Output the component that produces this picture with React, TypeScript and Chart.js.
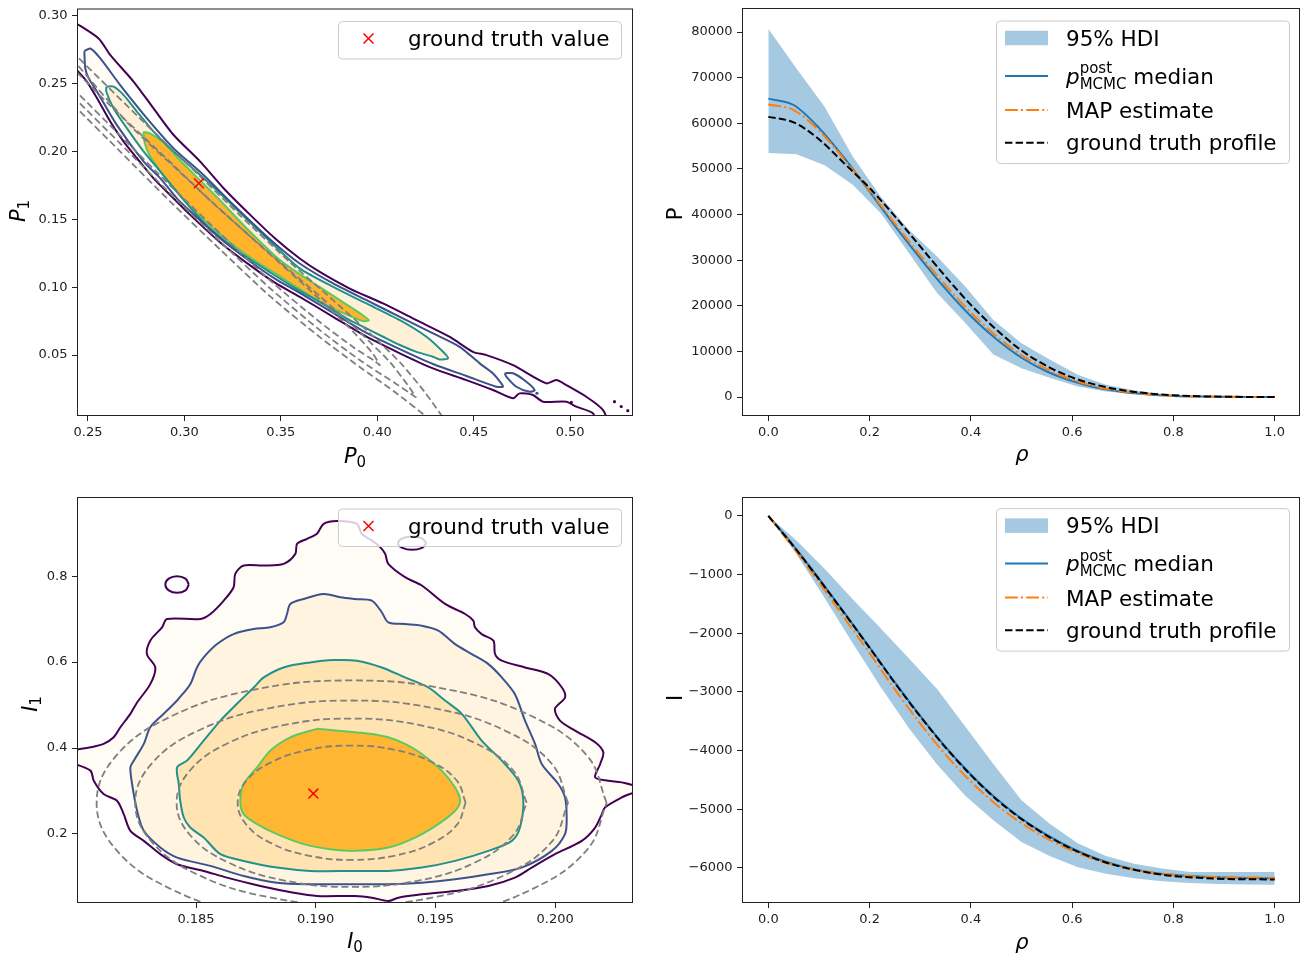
import React, { useEffect, useRef } from "react";
import { Chart, registerables } from "chart.js";
Chart.register(...registerables);

type Pt = [number, number];

// ================= Panel (a): P0 vs P1 =================
const P0_TICKS = [0.25, 0.3, 0.35, 0.4, 0.45, 0.5];
const P1_TICKS = [0.05, 0.1, 0.15, 0.2, 0.25, 0.3];
const P_TRUTH: Pt[] = [[0.3075, 0.1765]];

const P_LEVEL1: Pt[] = [
  [0.2425, 0.2955], [0.2555, 0.2831], [0.2616, 0.2708], [0.2737, 0.2512], [0.284, 0.2316], [0.2944, 0.212],
  [0.3082, 0.1924], [0.3203, 0.1728], [0.3341, 0.1532], [0.3469, 0.136], [0.3598, 0.1211], [0.3702, 0.1112],
  [0.3857, 0.099], [0.403, 0.088], [0.4203, 0.0757], [0.4376, 0.0634], [0.4496, 0.0524], [0.4566, 0.05],
  [0.4704, 0.0426], [0.4877, 0.0292], [0.4928, 0.0316], [0.498, 0.0279], [0.5084, 0.0193], [0.517, 0.0096],
  [0.52, -0.003], [0.515, -0.003], [0.5118, 0.0071], [0.5032, 0.012], [0.498, 0.0157], [0.4859, 0.0157],
  [0.4807, 0.0206], [0.4738, 0.0218], [0.4704, 0.0182], [0.46, 0.0243], [0.4462, 0.0316], [0.4289, 0.0402],
  [0.4117, 0.0513], [0.3944, 0.0635], [0.3771, 0.0782], [0.3598, 0.0929], [0.3469, 0.1033], [0.3339, 0.1162],
  [0.3184, 0.1331], [0.303, 0.1532], [0.2926, 0.1679], [0.284, 0.1801], [0.2754, 0.1949], [0.2685, 0.2071],
  [0.2616, 0.2218], [0.2547, 0.239], [0.2495, 0.2512], [0.2425, 0.2625],
];
const P_LEVEL1_SPECKS: Pt[] = [[0.5006, 0.0152], [0.523, 0.0157], [0.5265, 0.0121], [0.5299, 0.0091]];
const P_LEVEL2: Pt[] = [
  [0.2481, 0.2738], [0.2512, 0.2757], [0.2564, 0.2684], [0.2667, 0.2488], [0.2806, 0.2243], [0.2944, 0.2022],
  [0.3099, 0.1826], [0.3255, 0.1605], [0.3443, 0.1353], [0.3598, 0.1174], [0.3771, 0.1027], [0.3944, 0.0904],
  [0.4117, 0.0782], [0.4289, 0.066], [0.4427, 0.0561], [0.4531, 0.0439], [0.46, 0.0365], [0.4643, 0.0292],
  [0.4652, 0.0267], [0.4617, 0.0267], [0.4462, 0.0346], [0.4289, 0.0434], [0.4117, 0.0544], [0.3944, 0.0664],
  [0.3771, 0.0811], [0.3598, 0.0958], [0.3469, 0.1063], [0.3339, 0.1191], [0.3184, 0.136], [0.303, 0.1559],
  [0.2961, 0.1654], [0.2875, 0.1801], [0.2789, 0.1924], [0.265, 0.2193], [0.2547, 0.2439], [0.2504, 0.2537],
  [0.2486, 0.261], [0.2481, 0.2738],
];
const P_LEVEL2_ISLAND: Pt[] = [
  [0.4661, 0.0366], [0.4704, 0.0366], [0.4773, 0.0304], [0.4816, 0.0243], [0.479, 0.023], [0.4721, 0.0267],
  [0.4669, 0.0342], [0.4661, 0.0366],
];
const P_LEVEL2_SPECKS: Pt[] = [[0.4828, 0.0219]];
const P_LEVEL3: Pt[] = [
  [0.2595, 0.2476], [0.2633, 0.2476], [0.2685, 0.2414], [0.2754, 0.2292], [0.284, 0.2145], [0.2926, 0.2022],
  [0.3054, 0.186], [0.3184, 0.1691], [0.3313, 0.1515], [0.3443, 0.1338], [0.3598, 0.1138], [0.3771, 0.1002],
  [0.3944, 0.088], [0.4117, 0.0757], [0.4255, 0.0635], [0.4341, 0.0524], [0.4367, 0.0476], [0.4324, 0.0468],
  [0.4289, 0.0488], [0.4203, 0.0524], [0.4117, 0.0574], [0.403, 0.0635], [0.3944, 0.0696], [0.3857, 0.0757],
  [0.3771, 0.0831], [0.3685, 0.0904], [0.3598, 0.0973], [0.3443, 0.111], [0.3287, 0.1257], [0.3132, 0.1434],
  [0.3048, 0.1557], [0.2961, 0.1704], [0.2875, 0.1851], [0.2789, 0.1998], [0.2702, 0.2169], [0.2633, 0.2316],
  [0.2595, 0.2439], [0.2595, 0.2476],
];
const P_LEVEL4: Pt[] = [
  [0.2787, 0.2142], [0.2821, 0.2132], [0.289, 0.2066], [0.2977, 0.1934], [0.308, 0.1787], [0.3184, 0.164],
  [0.3322, 0.1434], [0.3495, 0.1199], [0.3598, 0.1096], [0.3702, 0.1], [0.3806, 0.0904], [0.3909, 0.0809],
  [0.3956, 0.0757], [0.3925, 0.075], [0.3806, 0.082], [0.3702, 0.089], [0.3598, 0.0985], [0.3495, 0.108],
  [0.3355, 0.1205], [0.3184, 0.139], [0.3028, 0.1595], [0.294, 0.1735], [0.2873, 0.1858], [0.2821, 0.1965],
  [0.2795, 0.2055], [0.2787, 0.2142],
];
const P_PRIOR1: Pt[] = [
  [0.242, 0.2466], [0.2443, 0.2434], [0.2666, 0.2118], [0.2925, 0.175], [0.3184, 0.1397], [0.3443, 0.1051],
  [0.3702, 0.0743], [0.3883, 0.0551], [0.3987, 0.0456], [0.4013, 0.0426], [0.3971, 0.0522], [0.3857, 0.0699],
  [0.365, 0.0978], [0.3391, 0.1309], [0.3132, 0.164], [0.2873, 0.1993], [0.2614, 0.2338], [0.2443, 0.2581],
  [0.242, 0.2613],
];
const P_PRIOR2: Pt[] = [
  [0.242, 0.2407], [0.2443, 0.2375], [0.2666, 0.2059], [0.2925, 0.1691], [0.3184, 0.1338], [0.3443, 0.0993],
  [0.3702, 0.0684], [0.3909, 0.0463], [0.4091, 0.0294], [0.4168, 0.0221], [0.4199, 0.0191], [0.4158, 0.0279],
  [0.4065, 0.0449], [0.3909, 0.0669], [0.3702, 0.0934], [0.3495, 0.1184], [0.3236, 0.1507], [0.2977, 0.1846],
  [0.2718, 0.2191], [0.2443, 0.264], [0.242, 0.2675],
];
const P_PRIOR3: Pt[] = [
  [0.242, 0.2348], [0.2443, 0.2316], [0.2666, 0.2], [0.2925, 0.1632], [0.3184, 0.1279], [0.3443, 0.0934],
  [0.3702, 0.0632], [0.3909, 0.0412], [0.4091, 0.0228], [0.4251, 0.0051], [0.4324, -0.004], [0.4375, -0.004],
  [0.4246, 0.0228], [0.4116, 0.0449], [0.3961, 0.0662], [0.3754, 0.0926], [0.3547, 0.1184], [0.3288, 0.1529],
  [0.3028, 0.189], [0.2769, 0.2243], [0.2443, 0.2699], [0.242, 0.2735],
];

// ================= Panel (b): pressure profile =================
const RHO = [0, 0.05, 0.1, 0.15, 0.2, 0.25, 0.3, 0.35, 0.4, 0.45, 0.5, 0.55, 0.6, 0.65, 0.7, 0.75, 0.8, 0.85, 0.9, 0.95, 1.0];
const RHO_TICKS = [0, 0.2, 0.4, 0.6, 0.8, 1.0];
const HDI_RHO = [0, 0.0556, 0.1111, 0.1667, 0.2222, 0.2778, 0.3333, 0.3889, 0.4444, 0.5, 0.5556, 0.6111, 0.6667, 0.7222, 0.7778, 0.8333, 0.8889, 0.9444, 1.0];
const P_TICKS = [0, 10000, 20000, 30000, 40000, 50000, 60000, 70000, 80000];
const P_HDI_HI = [80700, 72000, 63600, 52700, 43900, 36600, 30800, 24200, 16900, 11800, 8200, 4900, 2700, 1500, 650, 300, 150, 60, 0];
const P_HDI_LO = [53500, 53200, 50800, 46500, 40300, 31500, 22800, 16200, 9300, 6300, 4200, 2300, 1200, 650, 300, 100, 30, 10, 0];
const P_MEDIAN = [65400, 64000, 59000, 52400, 45000, 37500, 30400, 23700, 17700, 12700, 8600, 5600, 3500, 2000, 1100, 560, 250, 100, 40, 10, 0];
const P_MAP = [64100, 62900, 58400, 52100, 45200, 38000, 31100, 24500, 18500, 13400, 9200, 6100, 3800, 2200, 1200, 620, 290, 120, 45, 15, 0];
const P_TRUE = [61400, 60200, 56500, 51200, 45800, 39600, 33000, 26400, 20200, 14800, 10200, 6800, 4300, 2600, 1500, 800, 380, 160, 60, 20, 0];

// ================= Panel (c): I0 vs I1 =================
const I0_TICKS = [0.185, 0.19, 0.195, 0.2];
const I1_TICKS = [0.2, 0.4, 0.6, 0.8];
const I_TRUTH: Pt[] = [[0.1899, 0.294]];
const I_LEVEL1: Pt[] = [
  [0.17974, 0.3939], [0.18059, 0.4016], [0.18114, 0.4096], [0.18156, 0.425], [0.18184, 0.4483], [0.18226, 0.4796],
  [0.18254, 0.506], [0.18309, 0.5487], [0.1833, 0.5876], [0.18295, 0.6187], [0.18309, 0.6499], [0.18358, 0.681],
  [0.18379, 0.7004], [0.18518, 0.7004], [0.1856, 0.712], [0.18616, 0.7433], [0.18657, 0.7743], [0.18664, 0.8054],
  [0.18699, 0.825], [0.18783, 0.825], [0.18866, 0.8287], [0.18915, 0.852], [0.18922, 0.8754], [0.18964, 0.887],
  [0.19005, 0.8987], [0.19033, 0.922], [0.19089, 0.9284], [0.19172, 0.922], [0.19192, 0.8987], [0.19234, 0.8833],
  [0.19269, 0.8677], [0.1929, 0.852], [0.19303, 0.8287], [0.19373, 0.7977], [0.19443, 0.7783], [0.1954, 0.7354],
  [0.19624, 0.712], [0.19658, 0.6966], [0.19665, 0.681], [0.19693, 0.6653], [0.19742, 0.6499], [0.19749, 0.6187],
  [0.19777, 0.6033], [0.19874, 0.5876], [0.19972, 0.572], [0.20028, 0.541], [0.20041, 0.5176], [0.19999, 0.4912],
  [0.2002, 0.4639], [0.20083, 0.4406], [0.20167, 0.4133], [0.20201, 0.39], [0.20188, 0.3629], [0.20167, 0.3316],
  [0.20222, 0.3239], [0.20278, 0.32], [0.20355, 0.3053], [0.20278, 0.2849], [0.20208, 0.2616], [0.20195, 0.2462],
  [0.20167, 0.2149], [0.20111, 0.1839], [0.19999, 0.1529], [0.19902, 0.1216], [0.19832, 0.0983], [0.19721, 0.0789],
  [0.19582, 0.0672], [0.19443, 0.0595], [0.19345, 0.0516], [0.19303, 0.0439], [0.19234, 0.0516], [0.19164, 0.0556],
  [0.19005, 0.0556], [0.18908, 0.0632], [0.18769, 0.0789], [0.18629, 0.0983], [0.18532, 0.1139], [0.18421, 0.1295],
  [0.18351, 0.1529], [0.18282, 0.1839], [0.18226, 0.2072], [0.18198, 0.2462], [0.1817, 0.2773], [0.18114, 0.2929],
  [0.18073, 0.3239], [0.18059, 0.3473], [0.17974, 0.3666],
];
const I_LEVEL1_ISLAND_A: Pt[] = [
  [0.1847, 0.7806], [0.18456, 0.7943], [0.18421, 0.8], [0.18386, 0.7943], [0.18372, 0.7806], [0.18386, 0.7669],
  [0.18421, 0.7612], [0.18456, 0.7669], [0.1847, 0.7806],
];
const I_LEVEL1_ISLAND_B: Pt[] = [
  [0.19462, 0.877], [0.19444, 0.888], [0.19403, 0.8926], [0.19362, 0.888], [0.19344, 0.877], [0.19362, 0.866],
  [0.19403, 0.8614], [0.19444, 0.866], [0.19462, 0.877],
];
const I_LEVEL2: Pt[] = [
  [0.18421, 0.5106], [0.18476, 0.5487], [0.18504, 0.5876], [0.18532, 0.611], [0.18588, 0.642], [0.18657, 0.6653],
  [0.18741, 0.677], [0.1881, 0.681], [0.18866, 0.6927], [0.1888, 0.712], [0.18894, 0.7354], [0.1895, 0.747],
  [0.19033, 0.7587], [0.19103, 0.751], [0.19164, 0.747], [0.19234, 0.7433], [0.19276, 0.716], [0.19303, 0.6927],
  [0.19373, 0.6887], [0.19443, 0.6849], [0.19512, 0.6733], [0.19582, 0.642], [0.19652, 0.6187], [0.19721, 0.5953],
  [0.19777, 0.5643], [0.19832, 0.5253], [0.19874, 0.4639], [0.19916, 0.4096], [0.19944, 0.3629], [0.20013, 0.3162],
  [0.20041, 0.2849], [0.20048, 0.2383], [0.20041, 0.1995], [0.19986, 0.1606], [0.1986, 0.1216], [0.19721, 0.1062],
  [0.19582, 0.0945], [0.19443, 0.0866], [0.19303, 0.0829], [0.19164, 0.0829], [0.18977, 0.0829], [0.18838, 0.0866],
  [0.18699, 0.1022], [0.1856, 0.1256], [0.18421, 0.1449], [0.18351, 0.1683], [0.18282, 0.2072], [0.18254, 0.2539],
  [0.18233, 0.3162], [0.18226, 0.355], [0.1824, 0.3706], [0.18282, 0.4096], [0.18309, 0.4483], [0.18365, 0.4796],
  [0.18421, 0.5106],
];
const I_LEVEL3: Pt[] = [
  [0.18671, 0.5029], [0.18741, 0.541], [0.18783, 0.5643], [0.18866, 0.5876], [0.18977, 0.5993], [0.19075, 0.6047],
  [0.19172, 0.6033], [0.19276, 0.5876], [0.19373, 0.5643], [0.1947, 0.541], [0.1954, 0.5106], [0.1961, 0.4796],
  [0.19693, 0.4173], [0.19777, 0.3706], [0.19846, 0.3239], [0.19867, 0.2773], [0.19853, 0.2149], [0.19819, 0.1839],
  [0.19721, 0.1606], [0.19582, 0.1372], [0.19443, 0.1216], [0.19303, 0.1139], [0.19164, 0.1139], [0.18977, 0.1139],
  [0.18838, 0.1216], [0.18699, 0.1372], [0.18602, 0.1529], [0.18532, 0.1916], [0.18476, 0.2149], [0.18449, 0.2383],
  [0.18434, 0.2773], [0.18428, 0.3162], [0.18421, 0.355], [0.18462, 0.3706], [0.18532, 0.4173], [0.18602, 0.4639],
  [0.18671, 0.5029],
];
const I_LEVEL4: Pt[] = [
  [0.19005, 0.4446], [0.18894, 0.425], [0.1881, 0.3939], [0.18755, 0.355], [0.18699, 0.3162], [0.18685, 0.2773],
  [0.18699, 0.2462], [0.18755, 0.2229], [0.18838, 0.1995], [0.1895, 0.1762], [0.19061, 0.1645], [0.19164, 0.1606],
  [0.19303, 0.1683], [0.19415, 0.1916], [0.19512, 0.2229], [0.19582, 0.2539], [0.19603, 0.2773], [0.19582, 0.3083],
  [0.19526, 0.3473], [0.19443, 0.3862], [0.19373, 0.4096], [0.19303, 0.425], [0.19234, 0.4329], [0.19164, 0.4366],
  [0.19005, 0.4446],
];
const I_PRIOR1: Pt[] = [
  [0.19626, 0.2726], [0.1959, 0.3235], [0.19487, 0.3666], [0.19332, 0.3955], [0.1915, 0.4056], [0.18968, 0.3955],
  [0.18813, 0.3666], [0.1871, 0.3235], [0.18674, 0.2726], [0.1871, 0.2217], [0.18813, 0.1786], [0.18968, 0.1497],
  [0.1915, 0.1396], [0.19332, 0.1497], [0.19487, 0.1786], [0.1959, 0.2217], [0.19626, 0.2726],
];
const I_PRIOR2: Pt[] = [
  [0.19881, 0.2726], [0.19825, 0.3477], [0.19667, 0.4112], [0.1943, 0.4537], [0.1915, 0.4686], [0.1887, 0.4537],
  [0.18633, 0.4112], [0.18475, 0.3477], [0.18419, 0.2726], [0.18475, 0.1975], [0.18633, 0.134], [0.1887, 0.0915],
  [0.1915, 0.0766], [0.1943, 0.0915], [0.19667, 0.134], [0.19825, 0.1975], [0.19881, 0.2726],
];
const I_PRIOR3: Pt[] = [
  [0.20054, 0.2726], [0.19985, 0.3638], [0.19789, 0.4409], [0.19496, 0.4925], [0.1915, 0.5106], [0.18804, 0.4925],
  [0.18511, 0.4409], [0.18315, 0.3638], [0.18246, 0.2726], [0.18315, 0.1814], [0.18511, 0.1043], [0.18804, 0.0527],
  [0.1915, 0.0346], [0.19496, 0.0527], [0.19789, 0.1043], [0.19985, 0.1814], [0.20054, 0.2726],
];
const I_PRIOR4: Pt[] = [
  [0.20215, 0.2726], [0.20134, 0.3816], [0.19903, 0.4739], [0.19558, 0.5357], [0.1915, 0.5573], [0.18742, 0.5357],
  [0.18397, 0.4739], [0.18166, 0.3816], [0.18085, 0.2726], [0.18166, 0.1636], [0.18397, 0.0713], [0.18742, 0.0095],
  [0.1915, -0.0121], [0.19558, 0.0095], [0.19903, 0.0713], [0.20134, 0.1636], [0.20215, 0.2726],
];

// ================= Panel (d): current profile =================
const I_TICKS = [-6000, -5000, -4000, -3000, -2000, -1000, 0];
const I_HDI_HI = [0, -420, -900, -1420, -1920, -2430, -2950, -3590, -4230, -4850, -5250, -5580, -5800, -5930, -6010, -6070, -6070, -6070, -6070];
const I_HDI_LO = [0, -650, -1400, -2170, -2920, -3620, -4240, -4770, -5190, -5560, -5800, -5990, -6100, -6180, -6230, -6260, -6275, -6285, -6290];
const I_MEDIAN = [0, -510, -1070, -1650, -2240, -2840, -3410, -3940, -4410, -4820, -5160, -5440, -5670, -5850, -5980, -6070, -6120, -6150, -6165, -6175, -6180];
const I_MAP = [0, -550, -1130, -1740, -2340, -2960, -3540, -4070, -4530, -4920, -5240, -5500, -5710, -5870, -5990, -6070, -6120, -6150, -6160, -6165, -6170];
const I_TRUE = [0, -520, -1080, -1660, -2250, -2850, -3420, -3950, -4420, -4830, -5170, -5450, -5680, -5860, -5990, -6080, -6140, -6170, -6190, -6195, -6200];

// ================= styling =================
const VIRIDIS = ["#440154", "#3b528b", "#21918c", "#5ec962"];
const ORANGE_FILL = (a: number) => `rgba(255,165,0,${a})`;
const HDI_COLOR = "rgba(31,119,180,0.4)";
const FAM = '"DejaVu Sans", "Liberation Sans", sans-serif';
const TICK_FONT = { family: "DejaVu Sans", size: 13 };

const toXY = (a: Pt[]) => a.map(([x, y]) => ({ x, y }));
const zip = (xs: number[], ys: number[]) => xs.map((x, i) => ({ x, y: ys[i] }));

type Part = { t: string; size: number; italic?: boolean; dy?: number; stack?: boolean };

function richRun(ctx: any, parts: Part[], x: number, y: number, draw: boolean) {
  let cx = x;
  let stackW = 0;
  for (const p of parts) {
    ctx.font = `${p.italic ? "italic " : ""}${p.size}px ${FAM}`;
    const w = ctx.measureText(p.t).width;
    if (draw) ctx.fillText(p.t, cx, y + (p.dy || 0));
    if (p.stack) stackW = Math.max(stackW, w);
    else {
      cx += Math.max(w, stackW);
      stackW = 0;
    }
  }
  return cx - x;
}

function decor(spec: any) {
  return {
    id: "decor",
    afterDraw(chart: any) {
      const { ctx, chartArea: a } = chart;
      ctx.save();
      ctx.strokeStyle = "#222";
      ctx.lineWidth = 1;
      ctx.setLineDash([]);
      ctx.strokeRect(a.left + 0.5, a.top + 0.5, a.right - a.left - 1, a.bottom - a.top - 1);

      const L = spec.legend;
      const [bx0, by0, bx1, by1] = L.box;
      ctx.beginPath();
      ctx.roundRect(bx0 + 0.5, by0 + 0.5, bx1 - bx0, by1 - by0, 4);
      ctx.fillStyle = "rgba(255,255,255,0.8)";
      ctx.fill();
      ctx.strokeStyle = "#cccccc";
      ctx.lineWidth = 1;
      ctx.stroke();
      for (const it of L.items) {
        ctx.save();
        if (it.kind === "patch") {
          ctx.fillStyle = it.color;
          ctx.fillRect(it.x0, it.cy - 7.25, it.x1 - it.x0, 14.5);
        } else if (it.kind === "line") {
          ctx.strokeStyle = it.color;
          ctx.lineWidth = 2;
          ctx.setLineDash(it.dash || []);
          ctx.beginPath();
          ctx.moveTo(it.x0, it.cy);
          ctx.lineTo(it.x1, it.cy);
          ctx.stroke();
        } else if (it.kind === "cross") {
          ctx.strokeStyle = it.color;
          ctx.lineWidth = 1.5;
          ctx.beginPath();
          ctx.moveTo(it.cx - 5, it.cy - 5);
          ctx.lineTo(it.cx + 5, it.cy + 5);
          ctx.moveTo(it.cx - 5, it.cy + 5);
          ctx.lineTo(it.cx + 5, it.cy - 5);
          ctx.stroke();
        }
        ctx.restore();
        ctx.fillStyle = "#000";
        ctx.textAlign = "left";
        ctx.textBaseline = "alphabetic";
        richRun(ctx, it.parts, it.tx, it.base, true);
      }

      for (const lab of spec.labels) {
        ctx.fillStyle = "#000";
        ctx.textAlign = "left";
        ctx.textBaseline = "alphabetic";
        const w = richRun(ctx, lab.parts, 0, 0, false);
        const off = -w / 2;
        if (lab.rot) {
          ctx.save();
          ctx.translate(lab.x, lab.y);
          ctx.rotate(-Math.PI / 2);
          richRun(ctx, lab.parts, off, 0, true);
          ctx.restore();
        } else {
          richRun(ctx, lab.parts, lab.x + off, lab.y, true);
        }
      }
      ctx.restore();
    },
  };
}

function axis(min: number, max: number, ticks: number[], fmt: (v: number) => string, size: number, isX: boolean) {
  return {
    type: "linear",
    min,
    max,
    afterBuildTicks: (s: any) => {
      s.ticks = ticks.map((v) => ({ value: v }));
    },
    afterFit: (s: any) => {
      if (isX) s.height = size;
      else s.width = size;
      s.paddingTop = 0;
      s.paddingBottom = 0;
      s.paddingLeft = 0;
      s.paddingRight = 0;
    },
    grid: { display: true, drawOnChartArea: false, drawTicks: true, tickLength: 5, tickWidth: 1, tickColor: "#222" },
    border: { display: false },
    ticks: {
      color: "#222",
      font: TICK_FONT,
      padding: isX ? 4 : 4.5,
      maxRotation: 0,
      autoSkip: false,
      callback: (v: any) => fmt(Number(v)),
    },
  };
}

function baseOptions(pad: any, x: any, y: any) {
  return {
    animation: false,
    responsive: false,
    devicePixelRatio: 1,
    events: [],
    layout: { padding: pad },
    plugins: {
      legend: { display: false },
      tooltip: { enabled: false },
      filler: { drawTime: "beforeDatasetsDraw" },
    },
    scales: { x, y },
  };
}

const contour = (pts: Pt[], color: string, fill: string | null, tension: number) => ({
  type: "line",
  data: toXY(pts),
  borderColor: color,
  borderWidth: 2,
  pointRadius: 0,
  tension,
  fill: fill ? "shape" : false,
  backgroundColor: fill || "transparent",
  order: 2,
});
const prior = (pts: Pt[], tension: number) => ({
  type: "line",
  data: toXY(pts),
  borderColor: "#7f7f7f",
  borderWidth: 1.8,
  borderDash: [7, 3.5],
  pointRadius: 0,
  tension,
  fill: false,
  order: 1,
});
const specks = (pts: Pt[], color: string) => ({
  type: "scatter",
  data: toXY(pts),
  pointRadius: 1.6,
  pointBackgroundColor: color,
  pointBorderWidth: 0,
  showLine: false,
  order: 2,
});
const truthMarker = (pts: Pt[]) => ({
  type: "scatter",
  data: toXY(pts),
  pointStyle: "crossRot",
  pointRadius: 7,
  borderColor: "red",
  pointBorderColor: "red",
  pointBorderWidth: 1.5,
  showLine: false,
  order: 0,
});

const legendProfile = (dy: number) => ({
  box: [346, 20.5 + dy, 639, 163 + dy],
  items: [
    { kind: "patch", color: HDI_COLOR, x0: 355, x1: 398, cy: 38 + dy, tx: 416, base: 45.7 + dy, parts: [{ t: "95% HDI", size: 21.5 }] },
    {
      kind: "line", color: "#1f77b4", dash: [], x0: 355, x1: 398, cy: 76 + dy, tx: 416, base: 83.5 + dy,
      parts: [
        { t: "p", size: 21.5, italic: true },
        { t: "post", size: 15, dy: -10.5, stack: true },
        { t: "MCMC", size: 15, dy: 5 },
        { t: " median", size: 21.5 },
      ],
    },
    { kind: "line", color: "#ff7f0e", dash: [12.8, 3.2, 2, 3.2], x0: 355, x1: 398, cy: 110 + dy, tx: 416, base: 118.3 + dy, parts: [{ t: "MAP estimate", size: 21.5 }] },
    { kind: "line", color: "#000", dash: [7.4, 3.2], x0: 355, x1: 398, cy: 142.7 + dy, tx: 416, base: 150 + dy, parts: [{ t: "ground truth profile", size: 21.5 }] },
  ],
});

const legendTruth = (dy: number) => ({
  box: [338, 21 + dy, 621, 58.5 + dy],
  items: [{ kind: "cross", color: "red", cx: 368.5, cy: 38.5 + dy, tx: 408, base: 46 + dy, parts: [{ t: "ground truth value", size: 21.5 }] }],
});

function buildPP() {
  const datasets = [
    truthMarker(P_TRUTH),
    prior(P_PRIOR1, 0.2),
    prior(P_PRIOR2, 0.2),
    prior(P_PRIOR3, 0.2),
    contour(P_LEVEL1, VIRIDIS[0], null, 0.25),
    contour(P_LEVEL2, VIRIDIS[1], ORANGE_FILL(0.035), 0.25),
    contour(P_LEVEL2_ISLAND, VIRIDIS[1], null, 0.3),
    contour(P_LEVEL3, VIRIDIS[2], ORANGE_FILL(0.13), 0.25),
    contour(P_LEVEL4, VIRIDIS[3], ORANGE_FILL(0.8), 0.25),
    specks(P_LEVEL1_SPECKS, VIRIDIS[0]),
    specks(P_LEVEL2_SPECKS, VIRIDIS[1]),
  ];
  return {
    type: "line",
    data: { datasets },
    options: baseOptions(
      { top: 8, right: 17, left: 0, bottom: 0 },
      axis(0.2443, 0.5326, P0_TICKS, (v) => v.toFixed(2), 62, true),
      axis(0.00515, 0.30515, P1_TICKS, (v) => v.toFixed(2), 77, false)
    ),
    plugins: [
      decor({
        legend: legendTruth(0),
        labels: [
          { parts: [{ t: "P", size: 21, italic: true }, { t: "0", size: 15, dy: 4 }], x: 355, y: 463 },
          { parts: [{ t: "P", size: 21, italic: true }, { t: "1", size: 15, dy: 4 }], x: 24.5, y: 211, rot: true },
        ],
      }),
    ],
  };
}

function buildProfile(hi: number[], lo: number[], med: number[], map: number[], tru: number[], ymin: number, ymax: number, yTicks: number[], yFmt: (v: number) => string, pad: any, xH: number, dy: number, yLabel: string, yLabelY: number, rhoY: number) {
  const line = (ys: number[], color: string, dash: number[], order: number) => ({
    type: "line",
    data: zip(RHO, ys),
    borderColor: color,
    borderWidth: 2,
    borderDash: dash,
    pointRadius: 0,
    cubicInterpolationMode: "monotone",
    fill: false,
    order,
  });
  const datasets = [
    { type: "line", data: zip(HDI_RHO, hi), borderWidth: 0, pointRadius: 0, fill: "+1", backgroundColor: HDI_COLOR, order: 4 },
    { type: "line", data: zip(HDI_RHO, lo), borderWidth: 0, pointRadius: 0, fill: false, order: 5 },
    line(med, "#1f77b4", [], 2),
    line(map, "#ff7f0e", [12.8, 3.2, 2, 3.2], 1),
    line(tru, "#000000", [7.4, 3.2], 0),
  ];
  return {
    type: "line",
    data: { datasets },
    options: baseOptions(
      pad,
      axis(-0.052, 1.05, RHO_TICKS, (v) => v.toFixed(1), xH, true),
      axis(ymin, ymax, yTicks, yFmt, 92, false)
    ),
    plugins: [
      decor({
        legend: legendProfile(dy),
        labels: [
          { parts: [{ t: "ρ", size: 21, italic: true }], x: 372, y: rhoY },
          { parts: [{ t: yLabel, size: 21 }], x: 32, y: yLabelY, rot: true },
        ],
      }),
    ],
  };
}

function buildII() {
  const datasets = [
    truthMarker(I_TRUTH),
    prior(I_PRIOR1, 0.4),
    prior(I_PRIOR2, 0.4),
    prior(I_PRIOR3, 0.4),
    prior(I_PRIOR4, 0.4),
    contour(I_LEVEL1, VIRIDIS[0], ORANGE_FILL(0.035), 0.3),
    contour(I_LEVEL1_ISLAND_A, VIRIDIS[0], null, 0.4),
    contour(I_LEVEL1_ISLAND_B, VIRIDIS[0], null, 0.4),
    contour(I_LEVEL2, VIRIDIS[1], ORANGE_FILL(0.09), 0.3),
    contour(I_LEVEL3, VIRIDIS[2], ORANGE_FILL(0.22), 0.3),
    contour(I_LEVEL4, VIRIDIS[3], ORANGE_FILL(0.72), 0.3),
  ];
  return {
    type: "line",
    data: { datasets },
    options: baseOptions(
      { top: 19, right: 17, left: 0, bottom: 0 },
      axis(0.18003, 0.20325, I0_TICKS, (v) => v.toFixed(3), 52, true),
      axis(0.0392, 0.9844, I1_TICKS, (v) => v.toFixed(1), 77, false)
    ),
    plugins: [
      decor({
        legend: legendTruth(9.5),
        labels: [
          { parts: [{ t: "I", size: 21, italic: true }, { t: "0", size: 15, dy: 4 }], x: 355, y: 470 },
          { parts: [{ t: "I", size: 21, italic: true }, { t: "1", size: 15, dy: 4 }], x: 37, y: 226, rot: true },
        ],
      }),
    ],
  };
}

function Panel({ left, top, width, height, build }: any) {
  const ref = useRef<HTMLCanvasElement>(null);
  useEffect(() => {
    const chart = new Chart(ref.current as any, build() as any);
    return () => chart.destroy();
  }, []);
  return <canvas ref={ref} width={width} height={height} style={{ position: "absolute", left, top, width, height }} />;
}

const fmtInt = (v: number) => (v < 0 ? "\u2212" + Math.abs(v) : String(v));

export default function App() {
  return (
    <div style={{ position: "absolute", left: 0, top: 0, width: 1301, height: 955, background: "#fff" }}>
      <Panel left={0} top={0} width={650} height={478} build={buildPP} />
      <Panel
        left={650}
        top={0}
        width={651}
        height={478}
        build={() =>
          buildProfile(P_HDI_HI, P_HDI_LO, P_MEDIAN, P_MAP, P_TRUE, -4160, 85260, P_TICKS, fmtInt,
            { top: 8, right: 1, left: 0, bottom: 0 }, 62, 0, "P", 214, 461)
        }
      />
      <Panel left={0} top={478} width={650} height={477} build={buildII} />
      <Panel
        left={650}
        top={478}
        width={651}
        height={477}
        build={() =>
          buildProfile(I_HDI_HI, I_HDI_LO, I_MEDIAN, I_MAP, I_TRUE, -6600, 322, I_TICKS, fmtInt,
            { top: 19, right: 1, left: 0, bottom: 0 }, 52, 9.6, "I", 220, 471)
        }
      />
    </div>
  );
}
